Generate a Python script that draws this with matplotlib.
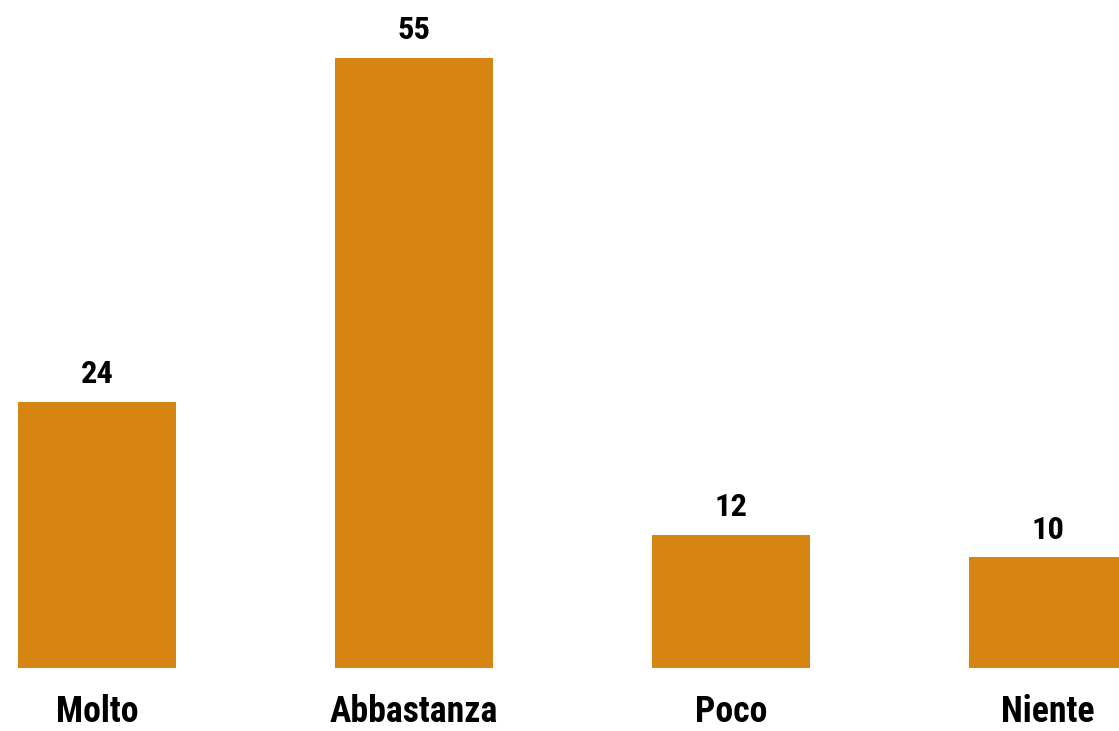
import matplotlib
matplotlib.use("Agg")
import matplotlib.pyplot as plt
from matplotlib import font_manager

categories = ['Molto', 'Abbastanza', 'Poco', 'Niente']
values = [24, 55, 12, 10]
bar_color = '#D68512'

# prefer a condensed face like the original, else plain Liberation Sans
names = {f.name for f in font_manager.fontManager.ttflist}
narrow = ['Liberation Sans Narrow', 'Roboto Condensed', 'DejaVu Sans Condensed',
          'Open Sans Condensed', 'Noto Sans Condensed']
found = [n for n in narrow if n in names]
if found:
    family, scale = found[0], 1.17
else:
    family, scale = 'Liberation Sans', 1.0
plt.rcParams['font.family'] = [family, 'DejaVu Sans']

fig = plt.figure(figsize=(11.19, 7.31), dpi=100)
ax = fig.add_axes([0, 63 / 731, 1, 668 / 731])

x = list(range(len(categories)))
ax.bar(x, values, width=0.5, color=bar_color)
for xi, v in zip(x, values):
    ax.annotate(str(v), (xi, v), xytext=(0, 9), textcoords='offset points',
                ha='center', va='bottom', fontsize=20 * scale, fontweight='bold')

ax.set_xlim(-0.306, 3.224)
ax.set_ylim(0, 60.2)
ax.set_xticks(x)
ax.set_xticklabels(categories, fontsize=22 * scale, fontweight='bold')
ax.tick_params(axis='x', length=0, pad=19)
ax.set_yticks([])
for s in ax.spines.values():
    s.set_visible(False)

fig.savefig('out.png', dpi=100)
